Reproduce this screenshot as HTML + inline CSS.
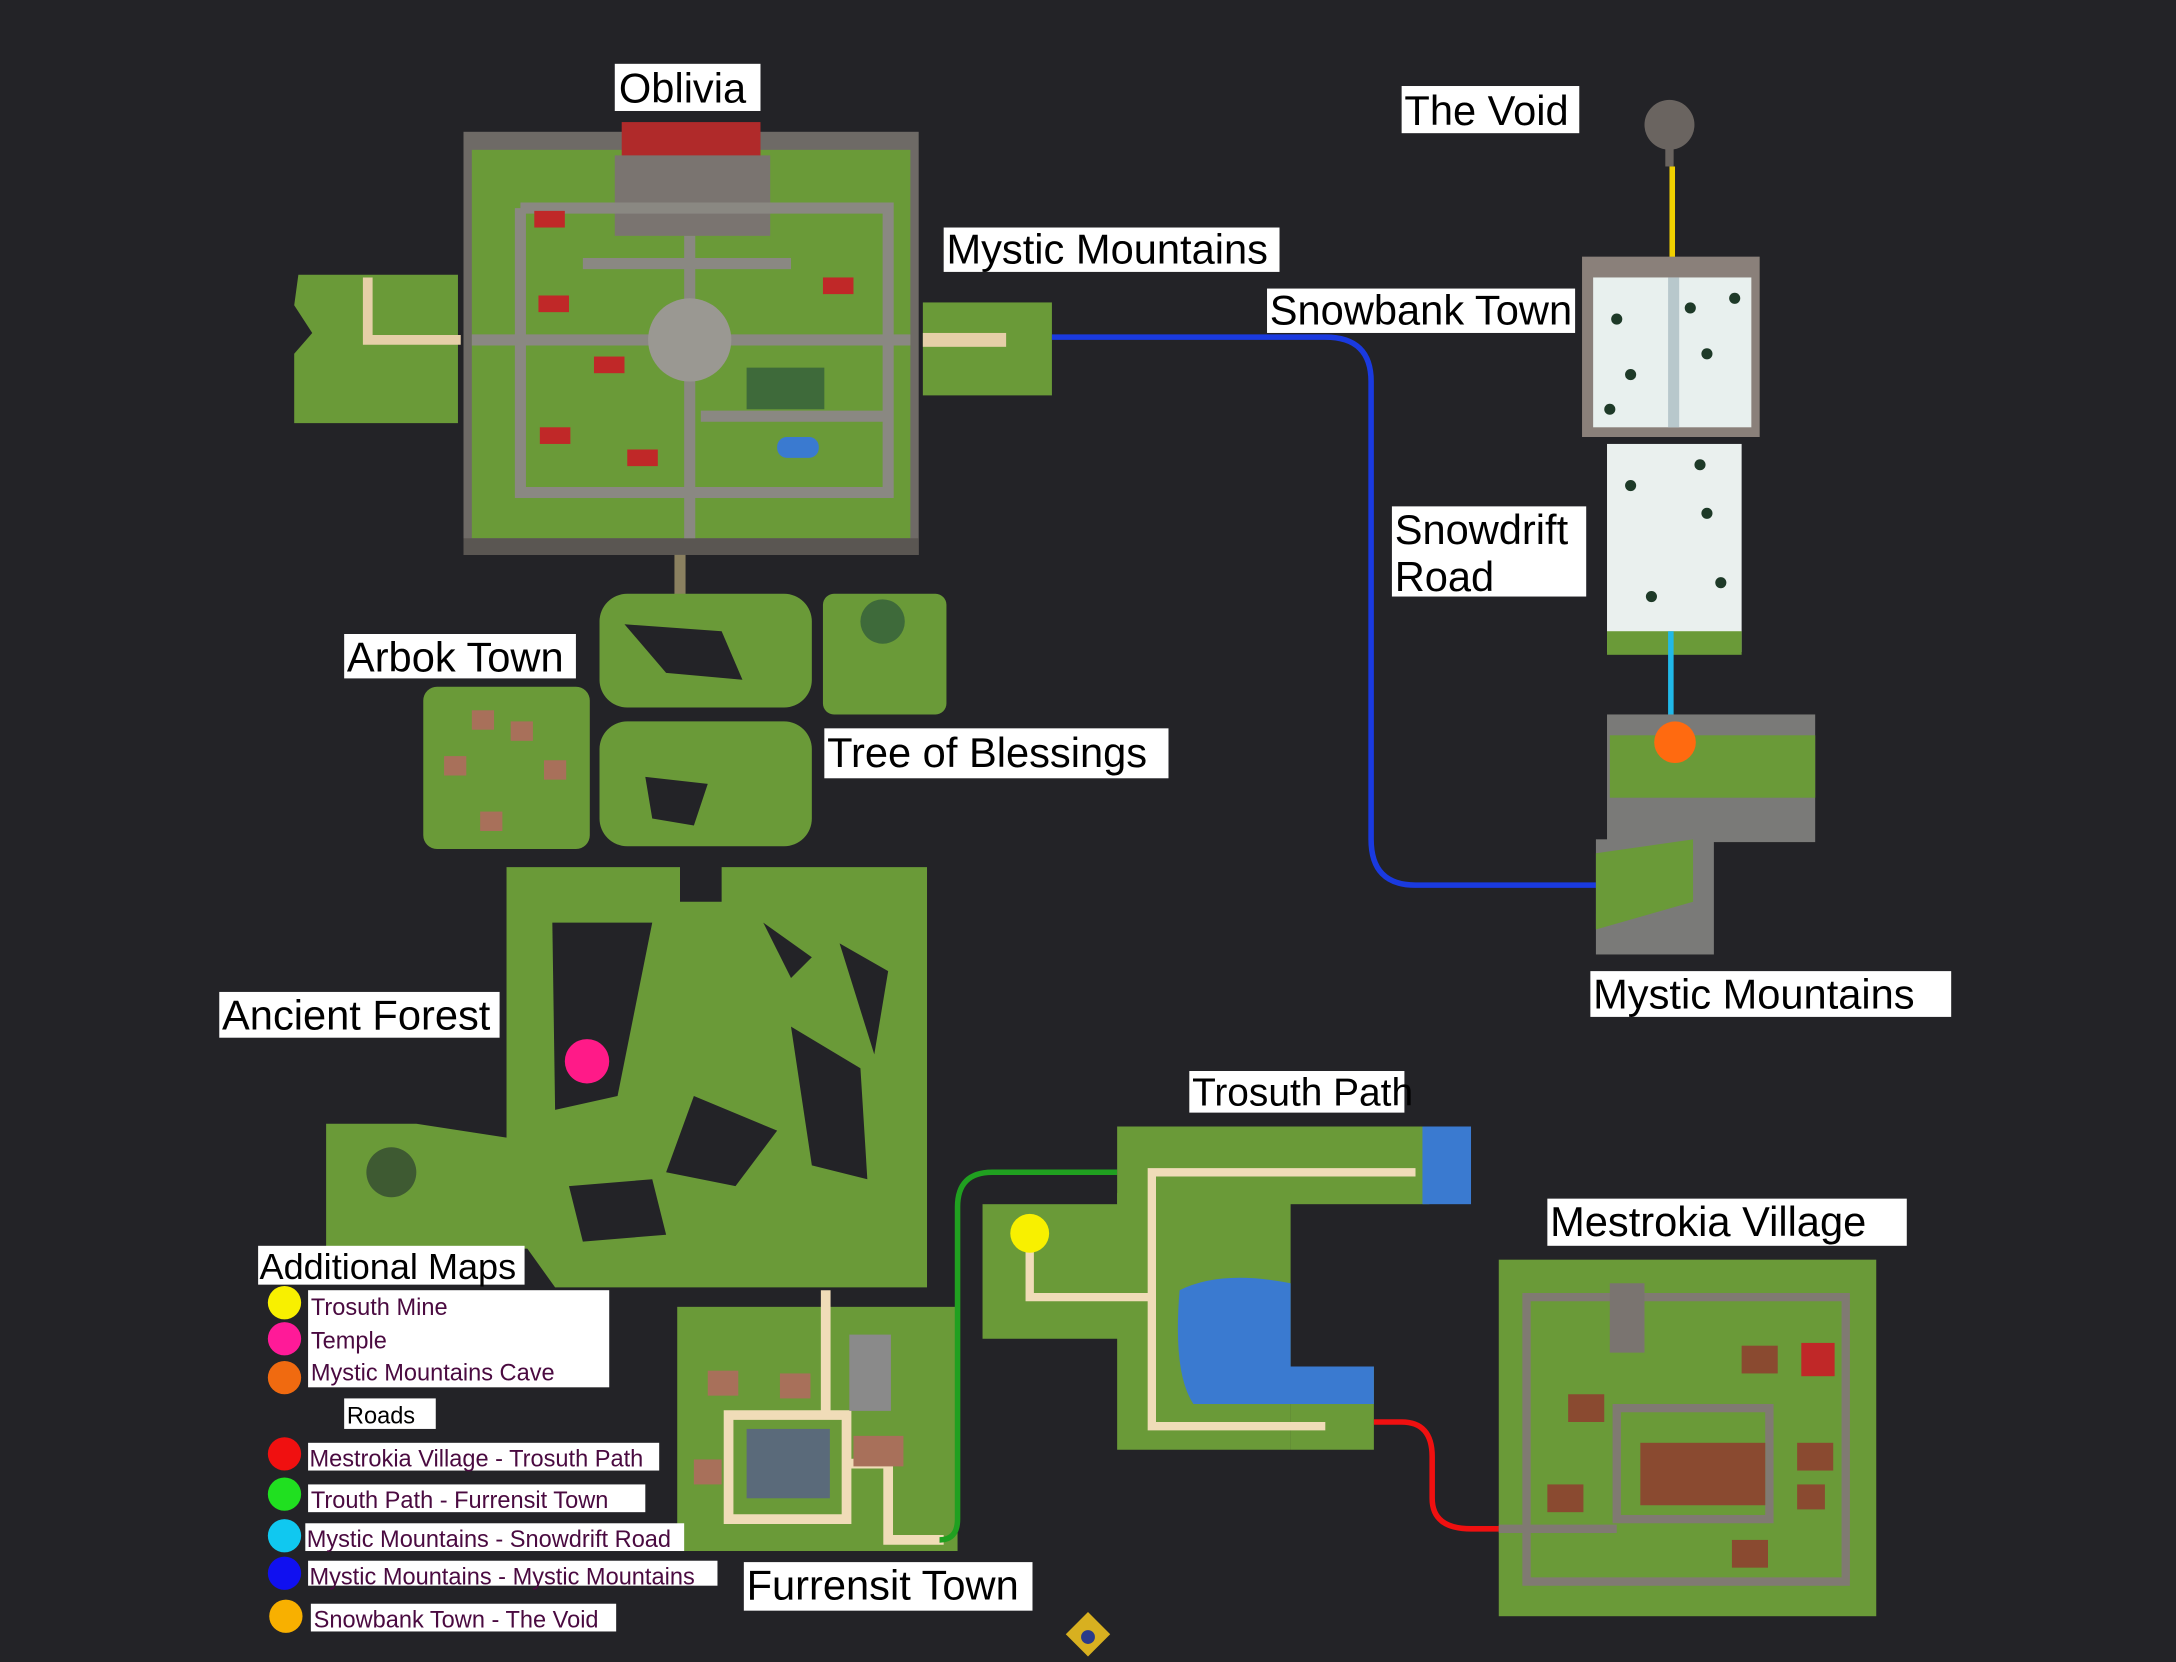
<!DOCTYPE html>
<html><head><meta charset="utf-8"><style>
html,body{margin:0;padding:0;background:#232327;width:2176px;height:1662px;overflow:hidden}
svg{display:block}
text{font-family:"Liberation Sans",sans-serif}
.lb{font-size:30px;fill:#000}
.lg{font-size:17px;fill:#4a0a40}
</style></head><body>
<svg width="2176" height="1662" viewBox="0 0 1568 1198" preserveAspectRatio="none" xmlns="http://www.w3.org/2000/svg">
<rect width="1568" height="1198" fill="#232327"/>
<!-- Oblivia -->
<rect x="334" y="95" width="328" height="305" fill="#6e6a66"/>
<rect x="340" y="108" width="316" height="280" fill="#6a9a38"/>
<rect x="334" y="388" width="328" height="12" fill="#5a5652"/>
<rect x="448" y="88" width="100" height="27" fill="#b02a2a"/>
<rect x="443" y="112" width="112" height="58" fill="#7a7470"/>
<g stroke="#8a8882" stroke-width="8" fill="none">
<path d="M340 245H656M497 170V388M375 150V355H640V150H375"/>
<path d="M420 190H570M505 300H640"/>
</g>
<circle cx="497" cy="245" r="30" fill="#9a9892"/>
<rect x="560" y="315" width="30" height="15" rx="7" fill="#3a7ad0"/>
<g fill="#c02828"><rect x="385" y="152" width="22" height="12"/><rect x="388" y="213" width="22" height="12"/><rect x="593" y="200" width="22" height="12"/><rect x="428" y="257" width="22" height="12"/><rect x="389" y="308" width="22" height="12"/><rect x="452" y="324" width="22" height="12"/></g>
<rect x="538" y="265" width="56" height="30" fill="#3e6a3a"/>
<!-- left island -->
<path d="M215 198H330V305H212V255L225 240L212 220Z" fill="#6a9a38"/>
<path d="M265 200V245H332" stroke="#e6cfa8" stroke-width="7" fill="none"/>
<!-- Mystic Mountains top -->
<rect x="665" y="218" width="93" height="67" fill="#6a9a38"/>
<rect x="665" y="240" width="60" height="10" fill="#e6cfa8"/>
<!-- blue road -->
<path d="M758 243H955Q988 243 988 275V605Q988 638 1020 638H1150" stroke="#1a3ae0" stroke-width="4" fill="none"/>
<!-- Void -->
<circle cx="1203" cy="90" r="18" fill="#6a6460"/>
<rect x="1200" y="100" width="6" height="20" fill="#6a6460"/>
<path d="M1205 120V195" stroke="#f0d000" stroke-width="4"/>
<!-- Snowbank -->
<rect x="1140" y="185" width="128" height="130" fill="#8a807a"/>
<rect x="1148" y="200" width="114" height="108" fill="#e8f0ee"/>
<rect x="1202" y="200" width="8" height="108" fill="#b8c8cc"/>
<g fill="#1e3a28"><circle cx="1165" cy="230" r="4"/><circle cx="1250" cy="215" r="4"/><circle cx="1175" cy="270" r="4"/><circle cx="1230" cy="255" r="4"/><circle cx="1160" cy="295" r="4"/><circle cx="1218" cy="222" r="4"/></g>
<!-- Snowdrift -->
<rect x="1158" y="320" width="97" height="150" fill="#eaf0ee"/>
<rect x="1158" y="455" width="97" height="17" fill="#6a9a38"/>
<g fill="#1e3a28"><circle cx="1175" cy="350" r="4"/><circle cx="1230" cy="370" r="4"/><circle cx="1240" cy="420" r="4"/><circle cx="1190" cy="430" r="4"/><circle cx="1225" cy="335" r="4"/></g>
<path d="M1204 455V520" stroke="#20b8e8" stroke-width="4"/>
<!-- Mystic Mountains lower -->
<rect x="1158" y="515" width="150" height="92" fill="#7a7a78"/>
<rect x="1160" y="530" width="148" height="45" fill="#6a9a38"/>
<rect x="1150" y="605" width="85" height="83" fill="#7a7a78"/>
<path d="M1150 615L1220 605V650L1150 670Z" fill="#6a9a38"/>
<circle cx="1207" cy="535" r="15" fill="#ff6a10"/>
<!-- Arbok area -->
<path d="M490 400V430" stroke="#8a8060" stroke-width="8"/>
<rect x="432" y="428" width="153" height="82" rx="20" fill="#6a9a38"/>
<path d="M450 450L520 455L535 490L480 485Z" fill="#232327"/>
<rect x="593" y="428" width="89" height="87" rx="8" fill="#6a9a38"/>
<circle cx="636" cy="448" r="16" fill="#3e6a3a"/>
<rect x="305" y="495" width="120" height="117" rx="10" fill="#6a9a38"/>
<g fill="#a8705a"><rect x="340" y="512" width="16" height="14"/><rect x="368" y="520" width="16" height="14"/><rect x="320" y="545" width="16" height="14"/><rect x="392" y="548" width="16" height="14"/><rect x="346" y="585" width="16" height="14"/></g>
<rect x="432" y="520" width="153" height="90" rx="20" fill="#6a9a38"/>
<path d="M465 560L510 565L500 595L470 590Z" fill="#232327"/>
<!-- Ancient forest -->
<path d="M365 625H490V650H520V625H668V928H400L380 900H235V810H300L365 820Z" fill="#6a9a38"/>
<g fill="#232327">
<path d="M398 665L470 665L445 790L400 800Z"/>
<path d="M550 665L585 690L570 705Z"/>
<path d="M605 680L640 700L630 760Z"/>
<path d="M570 740L620 770L625 850L585 840Z"/>
<path d="M500 790L560 815L530 855L480 845Z"/>
<path d="M410 855L470 850L480 890L420 895Z"/>
</g>
<circle cx="282" cy="845" r="18" fill="#3e5a32"/>
<circle cx="423" cy="765" r="16" fill="#ff1a88"/>
<!-- Furrensit -->
<rect x="488" y="942" width="202" height="176" fill="#6a9a38"/>
<path d="M595 930V1020H525V1095H610V1020H560M610 1055H640V1110H680" stroke="#f0dcb8" stroke-width="7" fill="none"/>
<rect x="538" y="1030" width="60" height="50" fill="#5a6a7a"/>
<rect x="612" y="962" width="30" height="55" fill="#8a8a8a"/>
<g fill="#a8705a"><rect x="510" y="988" width="22" height="18"/><rect x="562" y="990" width="22" height="18"/><rect x="500" y="1052" width="20" height="18"/><rect x="615" y="1035" width="36" height="22"/></g>
<path d="M677 1110Q690 1110 690 1095V870Q690 845 715 845H805" stroke="#20a020" stroke-width="4" fill="none"/>
<!-- Trosuth -->
<rect x="805" y="812" width="225" height="56" fill="#6a9a38"/>
<rect x="1025" y="812" width="35" height="56" fill="#3a7ad0"/>
<rect x="708" y="868" width="122" height="97" fill="#6a9a38"/>
<rect x="805" y="860" width="125" height="185" fill="#6a9a38"/>
<rect x="930" y="985" width="60" height="60" fill="#6a9a38"/>
<path d="M850 930Q880 915 930 925V1012H990V985H930V1012H860Q845 990 850 930Z" fill="#3a7ad0"/>
<path d="M1020 845H830V1028H955M830 935H742V893" stroke="#f0dcb8" stroke-width="6" fill="none"/>
<circle cx="742" cy="889" r="14" fill="#f8f000"/>
<path d="M990 1025H1010Q1032 1025 1032 1050V1080Q1032 1102 1060 1102H1080" stroke="#f01010" stroke-width="4" fill="none"/>
<!-- Mestrokia -->
<rect x="1080" y="908" width="272" height="257" fill="#6a9a38"/>
<path d="M1100 935H1330V1140H1100ZM1165 1015H1275V1095H1165ZM1080 1102H1165" stroke="#807a72" stroke-width="6" fill="none"/>
<rect x="1182" y="1040" width="90" height="45" fill="#8a4a30"/>
<rect x="1160" y="925" width="25" height="50" fill="#7a7470"/>
<g fill="#8a4a30"><rect x="1130" y="1005" width="26" height="20"/><rect x="1255" y="970" width="26" height="20"/><rect x="1115" y="1070" width="26" height="20"/><rect x="1295" y="1040" width="26" height="20"/><rect x="1248" y="1110" width="26" height="20"/><rect x="1295" y="1070" width="20" height="18"/></g>
<rect x="1298" y="968" width="24" height="24" fill="#c02828"/>
<!-- compass -->
<path d="M784 1162L800 1178L784 1194L768 1178Z" fill="#d8b020"/>
<circle cx="784" cy="1180" r="5" fill="#2a3a8a"/>
<!-- labels -->
<g>
<rect x="443" y="46" width="105" height="34" fill="#fff"/><text class="lb" x="446" y="74">Oblivia</text>
<rect x="1010" y="62" width="128" height="34" fill="#fff"/><text class="lb" x="1012" y="90">The Void</text>
<rect x="680" y="164" width="242" height="32" fill="#fff"/><text class="lb" x="682" y="190">Mystic Mountains</text>
<rect x="913" y="208" width="222" height="32" fill="#fff"/><text class="lb" x="915" y="234">Snowbank Town</text>
<rect x="1003" y="365" width="140" height="65" fill="#fff"/><text class="lb" x="1005" y="392">Snowdrift</text><text class="lb" x="1005" y="426">Road</text>
<rect x="248" y="457" width="167" height="32" fill="#fff"/><text class="lb" x="250" y="484">Arbok Town</text>
<rect x="594" y="525" width="248" height="36" fill="#fff"/><text class="lb" x="596" y="553">Tree of Blessings</text>
<rect x="1146" y="700" width="260" height="33" fill="#fff"/><text class="lb" x="1148" y="727">Mystic Mountains</text>
<rect x="158" y="715" width="202" height="33" fill="#fff"/><text class="lb" x="160" y="742">Ancient Forest</text>
<rect x="857" y="772" width="155" height="30" fill="#fff"/><text class="lb" x="859" y="797" style="font-size:28px">Trosuth Path</text>
<rect x="1115" y="864" width="259" height="34" fill="#fff"/><text class="lb" x="1117" y="891">Mestrokia Village</text>
<rect x="536" y="1126" width="208" height="35" fill="#fff"/><text class="lb" x="538" y="1153">Furrensit Town</text>
<rect x="186" y="898" width="192" height="28" fill="#fff"/><text class="lb" x="187" y="922" style="font-size:26px">Additional Maps</text>
<rect x="222" y="930" width="217" height="70" fill="#fff"/>
<text class="lg" x="224" y="948">Trosuth Mine</text>
<text class="lg" x="224" y="972">Temple</text>
<text class="lg" x="224" y="995">Mystic Mountains Cave</text>
<rect x="248" y="1008" width="66" height="22" fill="#fff"/><text class="lg" x="250" y="1026" style="fill:#000">Roads</text>
<rect x="222" y="1040" width="253" height="20" fill="#fff"/><text class="lg" x="223" y="1057">Mestrokia Village - Trosuth Path</text>
<rect x="222" y="1070" width="243" height="20" fill="#fff"/><text class="lg" x="224" y="1087">Trouth Path - Furrensit Town</text>
<rect x="220" y="1098" width="273" height="20" fill="#fff"/><text class="lg" x="221" y="1115">Mystic Mountains - Snowdrift Road</text>
<rect x="222" y="1125" width="295" height="18" fill="#fff"/><text class="lg" x="223" y="1142">Mystic Mountains - Mystic Mountains</text>
<rect x="224" y="1156" width="220" height="20" fill="#fff"/><text class="lg" x="226" y="1173">Snowbank Town - The Void</text>
<circle cx="205" cy="939" r="12" fill="#f8f000"/>
<circle cx="205" cy="965" r="12" fill="#ff1a98"/>
<circle cx="205" cy="993" r="12" fill="#f06a10"/>
<circle cx="205" cy="1048" r="12" fill="#f01010"/>
<circle cx="205" cy="1077" r="12" fill="#20e020"/>
<circle cx="205" cy="1107" r="12" fill="#10c8f0"/>
<circle cx="205" cy="1134" r="12" fill="#1010f0"/>
<circle cx="206" cy="1165" r="12" fill="#f8b000"/>
</g>
</svg>
</body></html>
